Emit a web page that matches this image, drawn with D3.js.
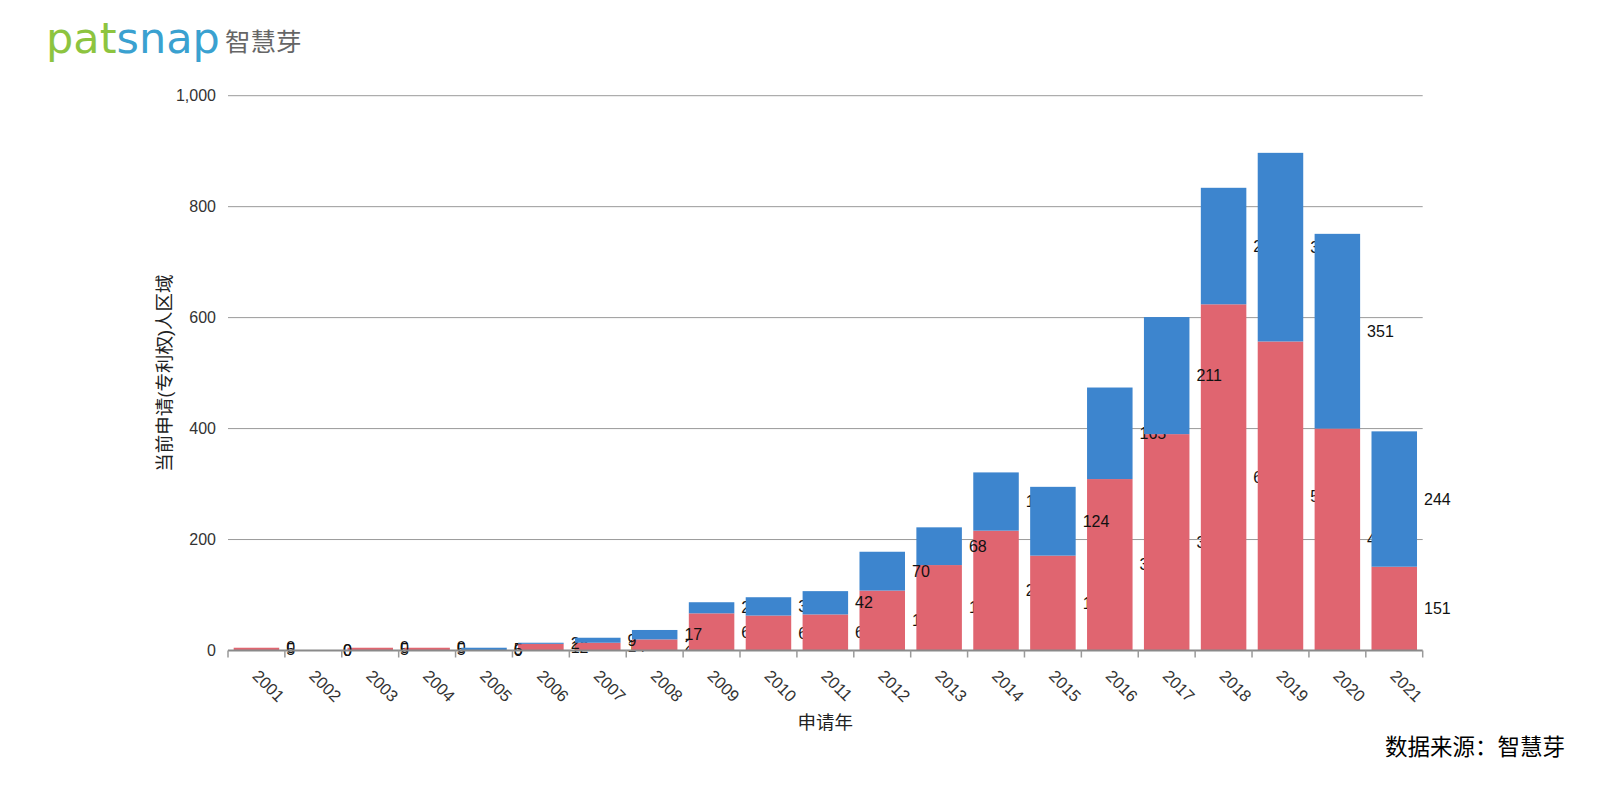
<!DOCTYPE html>
<html>
<head>
<meta charset="utf-8">
<script src="https://cdn.jsdelivr.net/npm/d3@7"></script>
<style>
  body { margin: 0; background: #fff; }
  text { font-family: "Helvetica Neue", "Liberation Sans", Arial, "Noto Sans CJK SC", sans-serif; }
</style>
</head>
<body>
<div id="chart"></div>
<script>
// Data
var years = ["2001", "2002", "2003", "2004", "2005", "2006", "2007", "2008", "2009", "2010", "2011",
             "2012", "2013", "2014", "2015", "2016", "2017", "2018", "2019", "2020", "2021"];
var redValues = [5, 0, 5, 5, 0, 12, 14, 20, 67, 63, 65, 108, 154, 216, 171, 309, 390, 624, 557, 400, 151];
var blueValues = [0, 0, 0, 0, 5, 2, 9, 17, 20, 33, 42, 70, 68, 105, 124, 165, 211, 210, 340, 351, 244];
var yTicks = [0, 200, 400, 600, 800, 1000];

var width = 1608, height = 790;
var plotLeft = 228, plotRight = 1422.7, plotTop = 95.7, plotBottom = 650.5;

var svg = d3.select("#chart").append("svg")
    .attr("width", width)
    .attr("height", height);

var x = d3.scaleBand().domain(years)
    .range([plotLeft, plotRight])
    .paddingInner(0.2)
    .paddingOuter(0.1);
var y = d3.scaleLinear().domain([0, 1000]).range([plotBottom, plotTop]);

// Build stacked rows
var rows = years.map(function(yr, i) {
    return { year: yr, red: redValues[i], blue: blueValues[i] };
});
var stack = d3.stack().keys(["red", "blue"])(rows);
var colors = { red: "#e06570", blue: "#3d85ce" };

// Logo
var logo = svg.append("text")
    .attr("x", 46).attr("y", 53)
    .style("font-family", "'DejaVu Sans', sans-serif")
    .style("font-size", "43px");
logo.append("tspan").attr("fill", "#8dc43f").text("pat");
logo.append("tspan").attr("fill", "#3aa1d0").text("snap");
svg.append("text")
    .attr("x", 225).attr("y", 51)
    .attr("fill", "#666")
    .style("font-size", "25.5px")
    .style("font-family", "'Noto Sans CJK SC', sans-serif")
    .text("智慧芽");

// Grid lines + y tick labels
svg.append("g").selectAll("line").data(yTicks.slice(1))
    .enter().append("line")
    .attr("x1", plotLeft).attr("x2", plotRight)
    .attr("y1", function(d) { return y(d); })
    .attr("y2", function(d) { return y(d); })
    .attr("stroke", "#9a9a9a").attr("stroke-width", 1);

svg.append("g").selectAll("text").data(yTicks)
    .enter().append("text")
    .attr("x", 216)
    .attr("y", function(d) { return y(d); })
    .attr("dy", "0.35em")
    .attr("text-anchor", "end")
    .attr("fill", "#333")
    .style("font-size", "16px")
    .text(function(d) { return d3.format(",")(d); });

// Layers: labels of a series sit under the bars of that series
stack.forEach(function(s) {
    svg.append("g").selectAll("text").data(s)
        .enter().append("text")
        .attr("x", function(d) { return x(d.data.year) + x.bandwidth() + 7; })
        .attr("y", function(d) { return (y(d[0]) + y(d[1])) / 2; })
        .attr("dy", "0.35em")
        .attr("fill", "#111")
        .style("font-size", "16px")
        .text(function(d) { return d.data[s.key]; });

    svg.append("g").selectAll("rect").data(s)
        .enter().append("rect")
        .attr("x", function(d) { return x(d.data.year); })
        .attr("width", x.bandwidth())
        .attr("y", function(d) { return y(d[1]); })
        .attr("height", function(d) { return y(d[0]) - y(d[1]); })
        .attr("fill", colors[s.key]);
});

// x axis line and ticks at band edges
svg.append("line")
    .attr("x1", plotLeft).attr("x2", plotRight)
    .attr("y1", plotBottom).attr("y2", plotBottom)
    .attr("stroke", "#8a8a8a").attr("stroke-width", 2);

var edges = d3.range(years.length + 1);
svg.append("g").selectAll("line").data(edges)
    .enter().append("line")
    .attr("x1", function(i) { return plotLeft + i * x.step(); })
    .attr("x2", function(i) { return plotLeft + i * x.step(); })
    .attr("y1", plotBottom).attr("y2", plotBottom + 7)
    .attr("stroke", "#9a9a9a").attr("stroke-width", 1.5);

svg.append("g").selectAll("text").data(years)
    .enter().append("text")
    .attr("transform", function(d) {
        return "translate(" + (x(d) + x.bandwidth() / 2 - 5) + "," + 677 + ") rotate(45)";
    })
    .attr("fill", "#333")
    .style("font-size", "16.5px")
    .text(function(d) { return d; });

// Axis titles
svg.append("text")
    .attr("transform", "translate(171," + ((plotTop + plotBottom) / 2) + ") rotate(-90)")
    .attr("text-anchor", "middle")
    .attr("fill", "#222")
    .style("font-size", "18.5px")
    .text("当前申请(专利权)人区域");

svg.append("text")
    .attr("x", (plotLeft + plotRight) / 2).attr("y", 729)
    .attr("text-anchor", "middle")
    .attr("fill", "#222")
    .style("font-size", "18.5px")
    .text("申请年");

svg.append("text")
    .attr("x", 1565).attr("y", 755)
    .attr("text-anchor", "end")
    .attr("fill", "#000")
    .style("font-size", "22.5px")
    .text("数据来源：智慧芽");
</script>
</body>
</html>
